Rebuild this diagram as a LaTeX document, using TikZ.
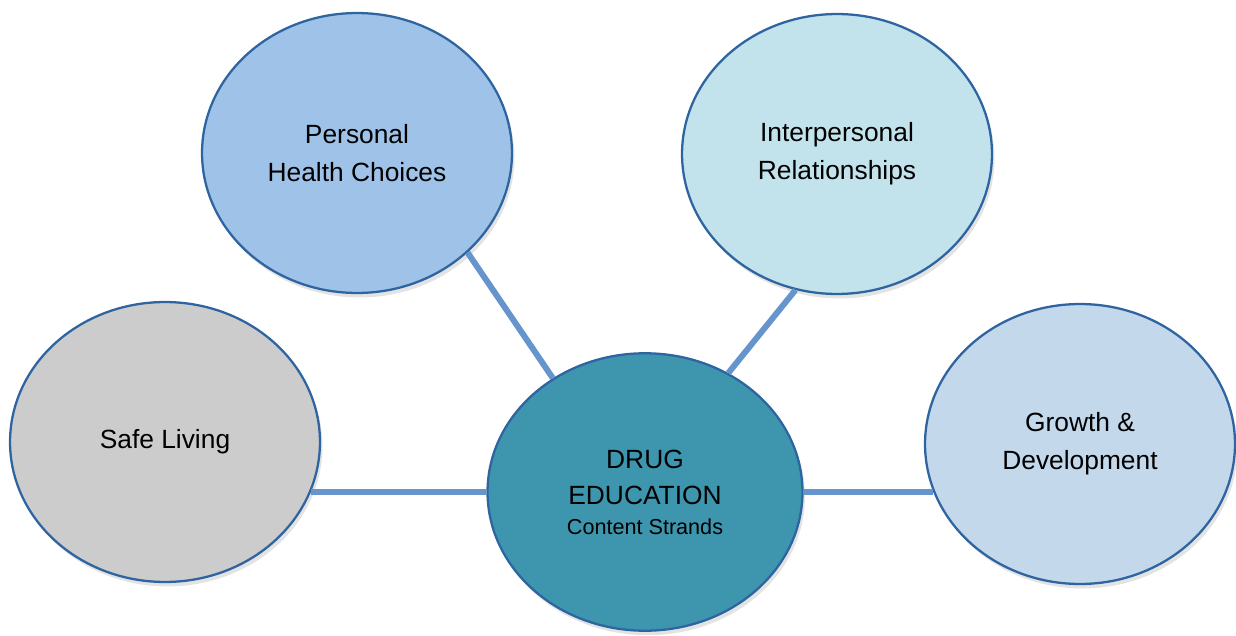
\documentclass[tikz,border=0pt]{standalone}
\usepackage{fontspec}
\setmainfont{Liberation Sans}
\usepackage{tikz}
\usetikzlibrary{shapes,shadows,positioning}

\definecolor{strandline}{HTML}{2E64A0}
\definecolor{linkblue}{HTML}{6595CC}
\definecolor{healthblue}{HTML}{9FC3E8}
\definecolor{relcyan}{HTML}{C3E3EC}
\definecolor{safegray}{HTML}{CCCCCC}
\definecolor{growthblue}{HTML}{C4D8EC}
\definecolor{drugteal}{HTML}{3D96AE}

\tikzset{
  strand/.style={
    ellipse, draw=strandline, line width=1.3pt,
    minimum width=6.2cm, minimum height=5.6cm, inner sep=0pt,
    align=center, font=\fontsize{15}{21.5}\selectfont,
    drop shadow={opacity=0.22, shadow xshift=0.5mm, shadow yshift=-0.9mm}
  },
  link/.style={draw=linkblue, line width=3.4pt}
}

\begin{document}
\begin{tikzpicture}[x=0.02cm,y=-0.02cm]
\useasboundingbox (0,0) rectangle (1236,635);

\node[strand, fill=healthblue] (health) at (357,153) {Personal\\Health Choices};
\node[strand, fill=relcyan] (relations) at (837,154) {Interpersonal\\Relationships};
\node[strand, fill=safegray] (safe) at (165,442) {Safe Living};
\node[strand, fill=growthblue] (growth) at (1080,444) {Growth \&\\Development};
\node[strand, fill=drugteal, minimum width=6.3cm, minimum height=5.55cm,
      font=\fontsize{15}{20.5}\selectfont] (drug) at (645,492)
  {DRUG\\EDUCATION\\[-3.5pt]{\fontsize{12.3}{17}\selectfont Content Strands}};

% spokes out from the centre
\draw[link] (health.-42) -- (drug.129);
\draw[link] (relations.-107) -- (drug.55);
\draw[link] (safe.-19) -- (safe.-19 -| drug.west);
\draw[link] (growth.-162) -- (growth.-162 -| drug.east);
\end{tikzpicture}
\end{document}
